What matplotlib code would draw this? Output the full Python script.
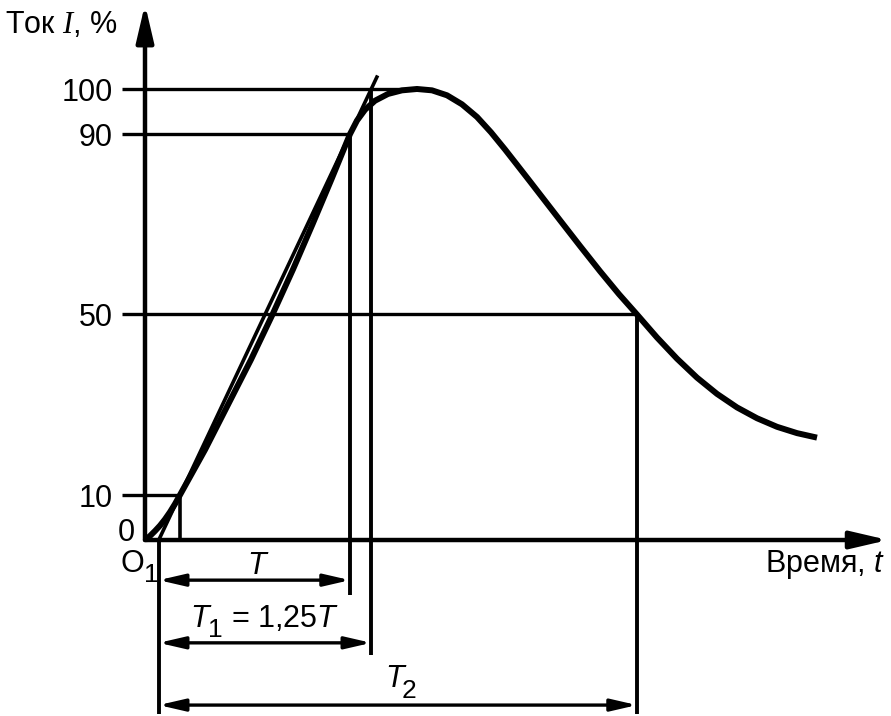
import matplotlib.pyplot as plt

plt.rcParams['font.family'] = ['Liberation Sans', 'DejaVu Sans']
plt.rcParams['mathtext.fontset'] = 'custom'
plt.rcParams['mathtext.rm'] = 'Liberation Sans'
plt.rcParams['mathtext.it'] = 'Liberation Sans:italic'
plt.rcParams['mathtext.cal'] = 'Liberation Serif:italic'

# current impulse, % of peak, against time (arbitrary units, axis origin at 0)
t_curve = [0.0, 0.5, 1.0, 1.5, 2.0, 2.5, 3.0, 3.5, 6.0, 8.3, 10.6, 12.75,
           14.8, 16.75, 18.65, 20.5, 21.2, 22.0, 23.0, 24.3, 25.7, 27.2,
           28.7, 30.2, 31.7, 33.2, 34.6, 36.0, 37.2, 38.5, 40.0, 41.5,
           43.5, 45.5, 47.4, 49.2, 51.2, 53.2, 55.2, 57.2, 59.2, 61.2,
           63.2, 65.2, 67.2]
i_curve = [0.0, 0.9, 2.0, 3.2, 4.6, 6.2, 8.0, 10.0, 20.0, 30.0, 40.0, 50.0,
           60.0, 70.0, 80.0, 90.0, 93.0, 95.4, 97.4, 98.9, 99.7, 100.0,
           99.7, 98.6, 96.6, 93.8, 90.4, 86.6, 83.2, 79.5, 75.2, 70.9,
           65.2, 59.6, 54.5, 50.0, 44.9, 40.2, 36.0, 32.4, 29.4, 27.0,
           25.1, 23.7, 22.7]

# marked levels on the current axis
levels = [10, 50, 90, 100]
level_labels = ["10", "50", "90", "100"]
# times where the curve reaches 10 %, 90 %, the peak, and falls back to 50 %
t10, t90, t_peak, t50 = 3.5, 20.5, 27.2, 49.2

# straight line through the 10 % and 90 % points -> virtual origin O1 and T1
slope = (90 - 10) / (t90 - t10)
o1 = t10 - 10 / slope
t1 = t10 + 90 / slope
t_line_end = t10 + 93 / slope

fig = plt.figure(figsize=(8.91, 7.16), dpi=100)
ax = fig.add_axes([0, 0, 1, 1])
ax.set_xlim(-14.5, 74.6)
ax.set_ylim(-39.02, 119.73)
ax.axis('off')

k = 'black'
stub = -2.3
fs = 22

# axes with arrows
ax.annotate('', xy=(0, 118.8), xytext=(0, 0),
            arrowprops=dict(arrowstyle='-|>,head_length=1.5,head_width=0.35',
                            mutation_scale=15, lw=3.2, color=k,
                            shrinkA=0, shrinkB=0))
ax.annotate('', xy=(74.3, 0), xytext=(0, 0),
            arrowprops=dict(arrowstyle='-|>,head_length=1.5,head_width=0.35',
                            mutation_scale=15, lw=3.2, color=k,
                            shrinkA=0, shrinkB=0))

# level lines from the axis to the curve
level_ends = [t10, t50, t90, t_peak]
for lv, lab, te in zip(levels, level_labels, level_ends):
    ax.plot([stub, te], [lv, lv], color=k, lw=2.4, solid_capstyle='butt')
    ax.text(-3.2, lv - 2.6, lab, fontsize=fs, ha='right', va='baseline')
ax.text(-1.0, -0.3, "0", fontsize=fs, ha='right', va='baseline')

# vertical reference lines
ax.plot([t10, t10], [0, 10], color=k, lw=2.6)
ax.plot([t90, t90], [90, -12.2], color=k, lw=2.8, solid_capstyle='butt')
ax.plot([t1, t1], [100, -25.5], color=k, lw=2.8, solid_capstyle='butt')
ax.plot([t50, t50], [50, -38.6], color=k, lw=2.8, solid_capstyle='butt')
ax.plot([o1, o1], [0, -38.6], color=k, lw=2.8, solid_capstyle='butt')

# tangent line through 10 % and 90 %
ax.plot([o1, t_line_end], [0, 93 + 10], color=k, lw=2.6, solid_capstyle='butt')

# current curve
ax.plot(t_curve, i_curve, color=k, lw=4.3, solid_joinstyle='round',
        solid_capstyle='butt')

# dimension arrows
dim_style = '<|-|>,head_length=1.3,head_width=0.3'
for x_end, yy in [(t90, -8.9), (t1, -22.8), (t50, -36.6)]:
    ax.annotate('', xy=(x_end, yy), xytext=(o1, yy),
                arrowprops=dict(arrowstyle=dim_style, mutation_scale=12,
                                lw=2.4, color=k, shrinkA=0, shrinkB=0))

# labels
ax.text(-14.0, 112.4, r"Ток $\mathcal{I}$, %", fontsize=fs, ha='left',
        va='baseline')
ax.text(62.0, -7.1, r"Время, $t$", fontsize=fs, ha='left', va='baseline')

ax.text(-2.5, -7.1, "O", fontsize=fs, ha='left', va='baseline')
ax.text(-0.1, -9.3, "1", fontsize=fs - 3, ha='left', va='baseline')

ax.text(11.2, -7.6, "T", fontsize=fs, style='italic', ha='center',
        va='baseline')

ax.text(4.5, -19.3, "T", fontsize=fs, style='italic', ha='left', va='baseline')
ax.text(6.3, -21.6, "1", fontsize=fs - 3, ha='left', va='baseline')
ax.text(8.6, -19.3, r"= 1,25$T$", fontsize=fs, ha='left', va='baseline')

ax.text(24.0, -32.6, "T", fontsize=fs, style='italic', ha='left',
        va='baseline')
ax.text(25.7, -35.0, "2", fontsize=fs - 3, ha='left', va='baseline')

fig.savefig('out.png', dpi=100)
plt.close(fig)
